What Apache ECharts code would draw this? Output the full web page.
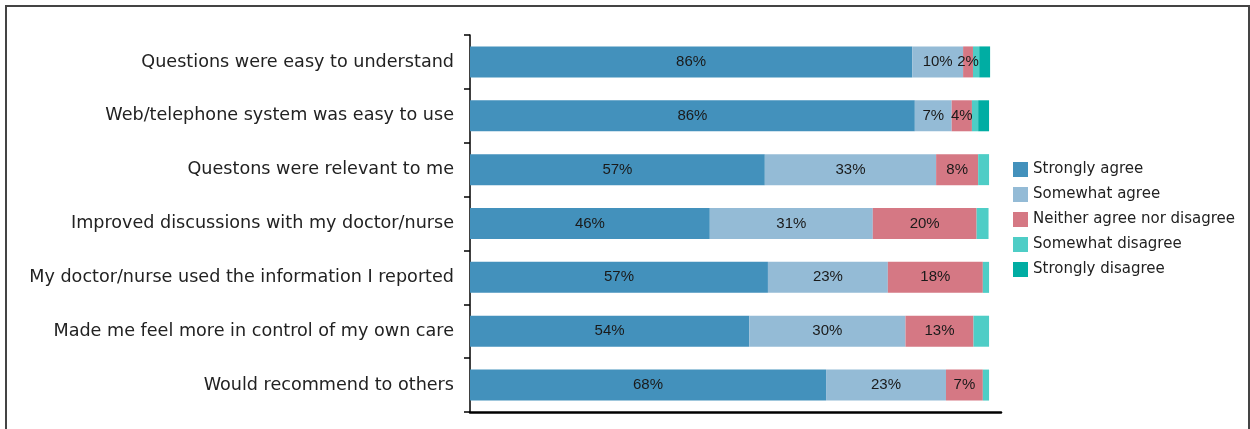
<!DOCTYPE html>
<html lang="en">
<head>
  <meta charset="UTF-8">
  <title>Patient feedback</title>
  <script src="https://cdn.jsdelivr.net/npm/echarts@6/dist/echarts.min.js"></script>
  <style>
    body { margin: 0; background: #fff; }
    #main { position: absolute; left: 0; top: 0; width: 1250px; height: 429px; }
    #frame { position: absolute; left: 5px; top: 5px; width: 1241px; height: 440px;
             border: 2px solid #444; pointer-events: none; }
  </style>
</head>
<body>
  <div id="main"></div>
  <div id="frame"></div>
  <script>
    var myChart = echarts.init(document.getElementById('main'));

    // categories, top to bottom
    var categories = [
      'Questions were easy to understand',
      'Web/telephone system was easy to use',
      'Questons were relevant to me',
      'Improved discussions with my doctor/nurse',
      'My doctor/nurse used the information I reported',
      'Made me feel more in control of my own care',
      'Would recommend to others'
    ];

    // percentages per response
    var stronglyAgree    = [85.2, 85.7, 56.8, 46.2, 57.4, 53.8, 68.6];
    var somewhatAgree    = [9.8, 7.1, 33.0, 31.4, 23.1, 30.1, 23.1];
    var neither          = [1.9, 3.9, 8.1, 20.0, 18.3, 13.1, 7.1];
    var somewhatDisagree = [1.2, 1.2, 2.1, 2.3, 1.2, 3.0, 1.2];
    var stronglyDisagree = [2.1, 2.1, 0, 0, 0, 0, 0];

    // printed labels
    var labelsSA = ['86%', '86%', '57%', '46%', '57%', '54%', '68%'];
    var labelsSwA = ['10%', '7%', '33%', '31%', '23%', '30%', '23%'];
    var labelsN = ['2%', '4%', '8%', '20%', '18%', '13%', '7%'];

    var names = ['Strongly agree', 'Somewhat agree', 'Neither agree nor disagree',
                 'Somewhat disagree', 'Strongly disagree'];
    var colors = ['#4391bc', '#94bbd6', '#d57884', '#4ecdc6', '#00ada3'];

    function makeSeries(i, values, labels) {
      return {
        name: names[i],
        type: 'bar',
        stack: 'total',
        barWidth: 31,
        itemStyle: { color: colors[i] },
        label: {
          show: !!labels,
          position: 'inside',
          color: '#1a1a1a',
          fontFamily: 'Liberation Sans',
          fontSize: 15,
          formatter: function (p) { return labels ? labels[p.dataIndex] : ''; }
        },
        data: values
      };
    }

    myChart.setOption({
      animation: false,
      color: colors,
      legend: {
        orient: 'vertical',
        left: 1008,
        top: 157,
        itemWidth: 15,
        itemHeight: 15,
        itemGap: 10,
        icon: 'rect',
        textStyle: { fontFamily: 'DejaVu Sans', fontSize: 15, color: '#222' },
        data: names
      },
      grid: { left: 470, right: 249, top: 35, bottom: 17 },
      xAxis: {
        type: 'value',
        min: 0,
        max: 102.3,
        axisLine: { show: true, lineStyle: { color: '#000', width: 2.5 } },
        axisTick: { show: false },
        axisLabel: { show: false },
        splitLine: { show: false }
      },
      yAxis: {
        type: 'category',
        inverse: true,
        data: categories,
        axisLine: { show: true, lineStyle: { color: '#000', width: 1.5 } },
        axisTick: { show: true, length: 6, lineStyle: { color: '#000', width: 1.5 } },
        axisLabel: {
          margin: 16,
          fontFamily: 'DejaVu Sans',
          fontSize: 17.6,
          color: '#222'
        }
      },
      series: [
        makeSeries(0, stronglyAgree, labelsSA),
        makeSeries(1, somewhatAgree, labelsSwA),
        makeSeries(2, neither, labelsN),
        makeSeries(3, somewhatDisagree, null),
        makeSeries(4, stronglyDisagree, null)
      ]
    });
  </script>
</body>
</html>
